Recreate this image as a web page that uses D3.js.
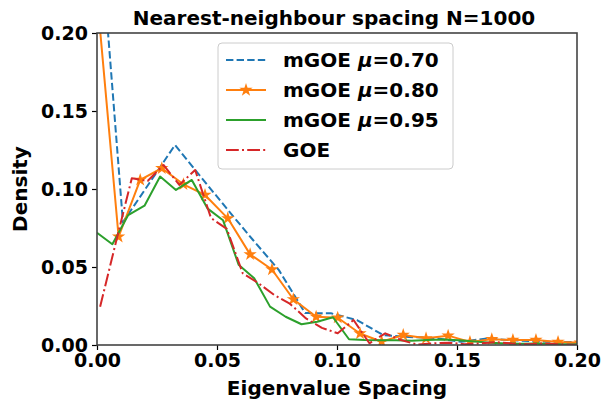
<!DOCTYPE html>
<html><head><meta charset="utf-8">
<script src="https://cdn.jsdelivr.net/npm/d3@7"></script>
<style>body{margin:0;background:#fff}svg{font-family:"DejaVu Sans",sans-serif;font-weight:bold}</style>
</head><body><svg id="c" width="602" height="403"></svg>
<script>
const xTicks = [0.00, 0.05, 0.10, 0.15, 0.20];
const yTicks = [0.00, 0.05, 0.10, 0.15, 0.20];

const x070 = [0.0000,0.0108,0.0217,0.0325,0.0433,0.0542,0.0650,0.0758,0.0867,0.0975,0.1083,0.1192,0.1300,0.1408,0.1517,0.1625,0.1733,0.1842,0.1950,0.2058];
const y070 = [0.290,0.0788,0.1035,0.1282,0.1077,0.0872,0.0673,0.0480,0.0205,0.0203,0.0160,0.0064,0.0051,0.0045,0.0020,0.0042,0.0030,0.0022,0.0020,0.0015];

const x080 = [0.0000,0.0090,0.0180,0.0270,0.0360,0.0450,0.0545,0.0638,0.0729,0.0818,0.0913,0.1003,0.1096,0.1186,0.1276,0.1371,0.1463,0.1554,0.1645,0.1733,0.1829,0.1921,0.2013];
const y080 = [0.224,0.0694,0.1058,0.1133,0.1030,0.0962,0.0812,0.0581,0.0484,0.0293,0.0181,0.0175,0.0074,0.0021,0.0064,0.0043,0.0060,0.0020,0.0037,0.0032,0.0032,0.0020,0.0015];

const x095 = [0.0000,0.0064,0.0130,0.0198,0.0263,0.0329,0.0395,0.0460,0.0525,0.0590,0.0655,0.0721,0.0786,0.0852,0.0918,0.0983,0.1050,0.1115,0.1180,0.1246,0.1311,0.1377,0.1443,0.1508,0.1574,0.1640,0.1705,0.1770,0.1836,0.1902,0.1967,0.2033];
const y095 = [0.0720,0.0646,0.0833,0.0893,0.1080,0.0994,0.1058,0.0876,0.0800,0.0515,0.0428,0.0246,0.0181,0.0133,0.0149,0.0178,0.0037,0.0032,0.0030,0.0030,0.0028,0.0032,0.0035,0.0030,0.0022,0.0015,0.0010,0.0008,0.0010,0.0006,0.0005,0.0004];

const xGOE = [0.0013,0.0079,0.0145,0.0211,0.0277,0.0343,0.0409,0.0475,0.0541,0.0607,0.0673,0.0739,0.0805,0.0871,0.0937,0.1003,0.1069,0.1135,0.1201,0.1267,0.1333,0.1399,0.1465,0.1531,0.1597,0.1663,0.1729,0.1795,0.1861,0.1927,0.1993];
const yGOE = [0.0245,0.0660,0.1069,0.1051,0.1154,0.1026,0.1122,0.0814,0.0744,0.0460,0.0396,0.0320,0.0263,0.0170,0.0110,0.0075,0.0160,0.0011,0.0075,0.0032,0.0003,0.0010,0.0015,0.0005,0.0010,0.0018,0.0010,0.0005,0.0010,0.0005,0.0002];

const series = [
  {label:["mGOE ","0.70"], xs:x070, ys:y070, color:"#1f77b4", dash:"7.4,3.2", star:false},
  {label:["mGOE ","0.80"], xs:x080, ys:y080, color:"#ff7f0e", dash:null, star:true},
  {label:["mGOE ","0.95"], xs:x095, ys:y095, color:"#2ca02c", dash:null, star:false},
  {label:["GOE",null], xs:xGOE, ys:yGOE, color:"#d62728", dash:"12.8,3.2,2,3.2", star:false}
];

const L=97, R=577, T=33, B=345;
const svg = d3.select("#c");
const xs = d3.scaleLinear().domain([0,0.2]).range([L,R]);
const ys = d3.scaleLinear().domain([0,0.2]).range([B,T]);

svg.append("defs").append("clipPath").attr("id","clip").append("rect")
  .attr("x",L).attr("y",T).attr("width",R-L).attr("height",B-T);

const gx = svg.append("g").attr("transform",`translate(0,${B})`)
  .call(d3.axisBottom(xs).tickValues(xTicks).tickFormat(d3.format(".2f")).tickSize(5).tickPadding(4));
const gy = svg.append("g").attr("transform",`translate(${L},0)`)
  .call(d3.axisLeft(ys).tickValues(yTicks).tickFormat(d3.format(".2f")).tickSize(5).tickPadding(4));
[gx,gy].forEach(g=>{
  g.select(".domain").remove();
  g.selectAll("text").attr("font-size",19).attr("font-weight","bold").attr("font-family","DejaVu Sans").attr("fill","#000");
  g.selectAll("line").attr("stroke","#000").attr("stroke-width",1.2);
});

const plot = svg.append("g").attr("clip-path","url(#clip)");
const line = d3.line().x(d=>xs(d[0])).y(d=>ys(d[1]));
const starPath = d3.symbol().type(d3.symbolStar).size(55)();

series.forEach(s=>{
  const pts = s.xs.map((v,i)=>[v,s.ys[i]]);
  const p = plot.append("path").attr("d",line(pts)).attr("fill","none")
    .attr("stroke",s.color).attr("stroke-width",2).attr("stroke-linejoin","round");
  if(s.dash) p.attr("stroke-dasharray",s.dash);
  if(s.star){
    plot.selectAll(null).data(pts).enter().append("path").attr("d",starPath)
      .attr("transform",d=>`translate(${xs(d[0])},${ys(d[1])})`).attr("fill",s.color);
  }
});

svg.append("rect").attr("x",L).attr("y",T).attr("width",R-L).attr("height",B-T)
  .attr("fill","none").attr("stroke","#444").attr("stroke-width",1.6);

svg.append("text").attr("x",334).attr("y",25).attr("text-anchor","middle")
  .attr("font-size",20).text("Nearest-neighbour spacing N=1000");
svg.append("text").attr("x",(L+R)/2).attr("y",395).attr("text-anchor","middle")
  .attr("font-size",20).text("Eigenvalue Spacing");
svg.append("text").attr("transform",`translate(27,${(T+B)/2}) rotate(-90)`).attr("text-anchor","middle")
  .attr("font-size",20).text("Density");

// legend
const lg = svg.append("g");
lg.append("rect").attr("x",218).attr("y",43).attr("width",235).attr("height",126).attr("rx",4)
  .attr("fill","#fff").attr("fill-opacity",0.8).attr("stroke","#ccc").attr("stroke-width",1);
series.forEach((s,i)=>{
  const yy = 60 + i*30;
  const ln = lg.append("line").attr("x1",226).attr("x2",266).attr("y1",yy).attr("y2",yy)
    .attr("stroke",s.color).attr("stroke-width",2);
  if(s.dash) ln.attr("stroke-dasharray",s.dash);
  if(s.star) lg.append("path").attr("d",starPath).attr("transform",`translate(246,${yy})`).attr("fill",s.color);
  const t = lg.append("text").attr("x",283).attr("y",yy+7).attr("font-size",20);
  t.append("tspan").text(s.label[0]);
  if(s.label[1]){
    t.append("tspan").attr("font-style","italic").text("μ");
    t.append("tspan").text("="+s.label[1]);
  }
});
</script></body></html>
